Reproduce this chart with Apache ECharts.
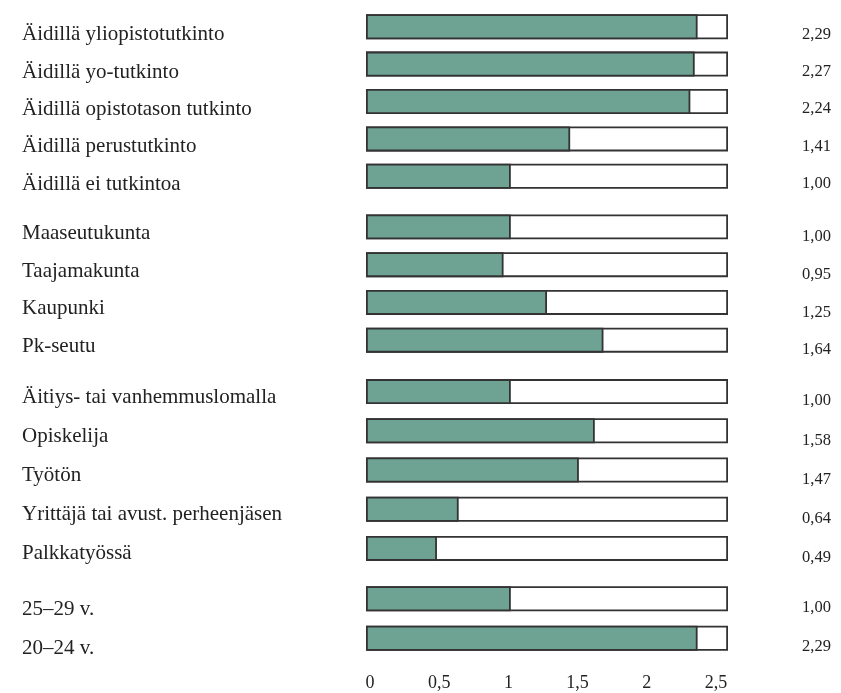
<!DOCTYPE html>
<html>
<head>
<meta charset="utf-8">
<script src="https://cdn.jsdelivr.net/npm/echarts@6/dist/echarts.min.js"></script>
<style>
html,body{margin:0;padding:0;background:#fff;}
#chart{width:841px;height:693px;}
</style>
</head>
<body>
<div id="chart"></div>
<script>
// ---- data ----
const groupEdu = ["Äidillä yliopistotutkinto","Äidillä yo-tutkinto","Äidillä opistotason tutkinto","Äidillä perustutkinto","Äidillä ei tutkintoa"];
const valuesEdu = [2.29, 2.27, 2.24, 1.41, 1.00];
const groupArea = ["Maaseutukunta","Taajamakunta","Kaupunki","Pk-seutu"];
const valuesArea = [1.00, 0.95, 1.25, 1.64];
const groupStatus = ["Äitiys- tai vanhemmuslomalla","Opiskelija","Työtön","Yrittäjä tai avust. perheenjäsen","Palkkatyössä"];
const valuesStatus = [1.00, 1.58, 1.47, 0.64, 0.49];
const groupAge = ["25–29 v.","20–24 v."];
const valuesAge = [1.00, 2.29];
const axisMax = 2.5;
const axisTickStep = 0.5;

// ---- layout ----
const groups = [
  {cats: groupEdu, vals: valuesEdu, top: 8, height: 187, lblOff: 8, valOff: 7.5},
  {cats: groupArea, vals: valuesArea, top: 208, height: 151, lblOff: 6.5, valOff: 10},
  {cats: groupStatus, vals: valuesStatus, top: 372, height: 196, lblOff: 5.5, valOff: 9.5},
  {cats: groupAge, vals: valuesAge, top: 579, height: 79, lblOff: 10.5, valOff: 8.5}
];
const FONT = '"Liberation Serif", "DejaVu Serif", serif';
const TXT = '#222';
const fmt = v => v.toFixed(2).replace('.', ',');

const grid = [], xAxis = [], yAxis = [], series = [];
groups.forEach((g, i) => {
  grid.push({left: 366, right: 113, top: g.top, height: g.height, containLabel: false});
  xAxis.push({
    type: 'value', gridIndex: i, min: 0, max: axisMax, interval: axisTickStep,
    axisLine: {show: false}, axisTick: {show: false}, splitLine: {show: false},
    axisLabel: {show: false}
  });
  yAxis.push({
    type: 'category', gridIndex: i, data: g.cats, inverse: true, position: 'left',
    axisLine: {show: false}, axisTick: {show: false},
    axisLabel: {
      align: 'left', verticalAlign: 'top', lineHeight: g.lblOff * 2,
      margin: 344, color: TXT, fontFamily: FONT, fontSize: 21
    }
  });
  yAxis.push({
    type: 'category', gridIndex: i, data: g.vals.map(fmt), inverse: true, position: 'right',
    axisLine: {show: false}, axisTick: {show: false},
    axisLabel: {
      align: 'left', verticalAlign: 'top', lineHeight: g.valOff * 2,
      margin: 74, color: TXT, fontFamily: FONT, fontSize: 16.5
    }
  });
  series.push({
    type: 'bar', xAxisIndex: i, yAxisIndex: i * 2, barWidth: 25, barGap: '-100%',
    data: g.vals.map(() => axisMax), silent: true, animation: false,
    itemStyle: {color: '#ffffff', borderColor: '#333', borderWidth: 1.8}
  });
  series.push({
    type: 'bar', xAxisIndex: i, yAxisIndex: i * 2, barWidth: 25, barGap: '-100%',
    data: g.vals, animation: false,
    itemStyle: {color: '#6ea394', borderColor: '#333', borderWidth: 1.8}
  });
});

// tick-label axis (drawn slightly narrower, as in the original)
grid.push({left: 370, right: 125, top: 579, height: 79, containLabel: false});
xAxis.push({
  type: 'value', gridIndex: groups.length, min: 0, max: axisMax, interval: axisTickStep,
  axisLine: {show: false}, axisTick: {show: false}, splitLine: {show: false},
  axisLabel: {
    margin: 16, color: TXT, fontFamily: FONT, fontSize: 18,
    formatter: v => String(v).replace('.', ',')
  }
});
yAxis.push({type: 'value', gridIndex: groups.length, show: false, min: 0, max: 1});

const chart = echarts.init(document.getElementById('chart'), null, {renderer: 'canvas'});
chart.setOption({backgroundColor: '#fff', animation: false, grid, xAxis, yAxis, series});
</script>
</body>
</html>
